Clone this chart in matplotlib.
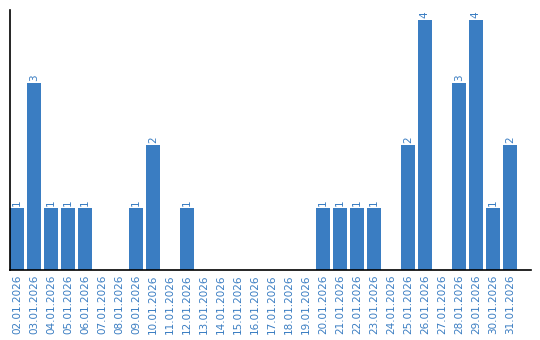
import matplotlib
matplotlib.use("Agg")
import matplotlib.pyplot as plt

dates = ["02.01.2026", "03.01.2026", "04.01.2026", "05.01.2026", "06.01.2026",
         "07.01.2026", "08.01.2026", "09.01.2026", "10.01.2026", "11.01.2026",
         "12.01.2026", "13.01.2026", "14.01.2026", "15.01.2026", "16.01.2026",
         "17.01.2026", "18.01.2026", "19.01.2026", "20.01.2026", "21.01.2026",
         "22.01.2026", "23.01.2026", "24.01.2026", "25.01.2026", "26.01.2026",
         "27.01.2026", "28.01.2026", "29.01.2026", "30.01.2026", "31.01.2026"]
counts = [1, 3, 1, 1, 1, 0, 0, 1, 2, 0,
          1, 0, 0, 0, 0, 0, 0, 0, 1, 1,
          1, 1, 0, 2, 4, 0, 3, 4, 1, 2]

blue = "#3a7dc2"

fig = plt.figure(figsize=(5.4, 3.4), dpi=100)
ax = fig.add_axes([10/540, 70/340, 521/540, 260/340])

x = list(range(len(dates)))
ax.bar(x, counts, width=0.82, color=blue)
for i, c in enumerate(counts):
    if c > 0:
        ax.text(i, c + 0.03, str(c), rotation=90, ha="center", va="bottom",
                color=blue, fontsize=7.5)

ax.set_xlim(-0.41, 30.24)
ax.set_ylim(0, 4.16)
ax.set_xticks(x)
ax.set_xticklabels(dates, rotation=90, color=blue, fontsize=7.5)
ax.set_yticks([])
ax.tick_params(axis="x", length=0, pad=3)
ax.spines["top"].set_visible(False)
ax.spines["right"].set_visible(False)
ax.spines["left"].set_linewidth(1.2)
ax.spines["bottom"].set_linewidth(1.2)

fig.savefig("out.png", dpi=100)
